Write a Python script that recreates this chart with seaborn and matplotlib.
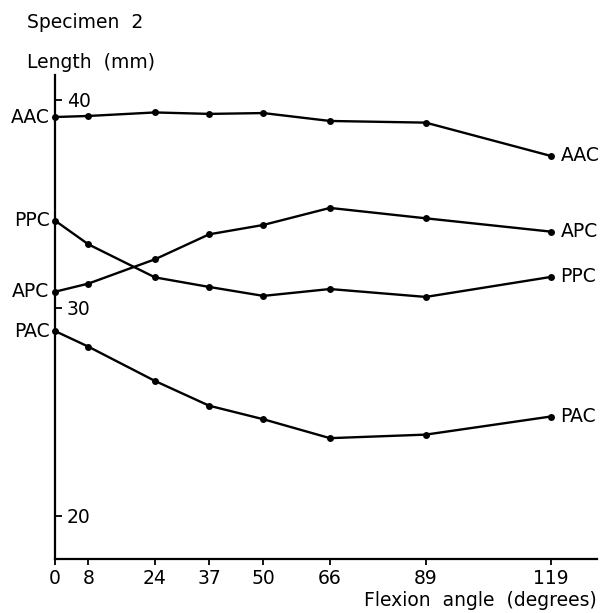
import matplotlib
matplotlib.use("Agg")
import numpy as np
import pandas as pd
import seaborn as sns
import matplotlib.pyplot as plt

# ---- data ----
angles = [0, 8, 24, 37, 50, 66, 89, 119]
aac = [39.18, 39.23, 39.40, 39.33, 39.37, 38.99, 38.91, 37.31]
apc = [30.78, 31.17, 32.34, 33.54, 33.99, 34.81, 34.31, 33.67]
ppc = [34.20, 33.06, 31.47, 31.01, 30.58, 30.91, 30.53, 31.49]
pac = [28.89, 28.14, 26.49, 25.30, 24.65, 23.74, 23.91, 24.78]
series_names = ["AAC", "APC", "PPC", "PAC"]
y_ticks = [20, 30, 40]
x_ticks = angles

series_values = {"AAC": aac, "APC": apc, "PPC": ppc, "PAC": pac}
df = pd.DataFrame(
    [(a, name, v) for name in series_names for a, v in zip(angles, series_values[name])],
    columns=["angle", "series", "length"],
)

sns.set_style("ticks", {"text.color": "black", "axes.edgecolor": "black",
                        "xtick.color": "black", "ytick.color": "black"})
plt.rcParams["font.family"] = ["DejaVu Sans"]
plt.rcParams["text.color"] = "black"
FS = 13.5

fig = plt.figure(figsize=(6.09, 6.13), dpi=100)
ax = fig.add_axes([55 / 609, 1 - 559 / 613, (597 - 55) / 609, (559 - 75) / 613])

sns.lineplot(
    data=df, x="angle", y="length", hue="series", units="series", estimator=None,
    palette={n: "black" for n in series_names}, marker="o", markersize=5,
    markeredgewidth=0, linewidth=1.7, legend=False, ax=ax, clip_on=False,
)

ax.set_xlim(0, 130.1)
ax.set_ylim(17.93, 41.2)

for s in ["top", "right"]:
    ax.spines[s].set_visible(False)
for s in ["left", "bottom"]:
    ax.spines[s].set_linewidth(1.6)
    ax.spines[s].set_color("black")

ax.set_xticks(x_ticks)
ax.set_xticklabels([str(t) for t in x_ticks], fontsize=FS)
ax.tick_params(axis="x", bottom=True, direction="out", length=4, width=1.3, pad=3,
               colors="black", labelcolor="black")

ax.set_yticks(y_ticks)
ax.set_yticklabels([str(t) for t in y_ticks], fontsize=FS)
ax.tick_params(axis="y", left=True, direction="in", length=5, width=1.3, pad=-8.5,
               colors="black", labelcolor="black")
for lab in ax.get_yticklabels():
    lab.set_horizontalalignment("left")

ax.set_xlabel("")
ax.set_ylabel("")

for name in series_names:
    vals = series_values[name]
    ax.annotate(name, (angles[0], vals[0]), xytext=(-4, 0), textcoords="offset points",
                ha="right", va="center", fontsize=FS, color="black", annotation_clip=False)
    ax.annotate(name, (angles[-1], vals[-1]), xytext=(7, 0), textcoords="offset points",
                ha="left", va="center", fontsize=FS, color="black", annotation_clip=False)

fig.text(27 / 609, 1 - 22 / 613, "Specimen  2", ha="left", va="center", fontsize=FS, color="black")
fig.text(27 / 609, 1 - 62 / 613, "Length  (mm)", ha="left", va="center", fontsize=FS, color="black")
fig.text(597 / 609, 1 - 601 / 613, "Flexion  angle  (degrees)", ha="right", va="center",
         fontsize=FS, color="black")

fig.savefig("out.png", dpi=100)
